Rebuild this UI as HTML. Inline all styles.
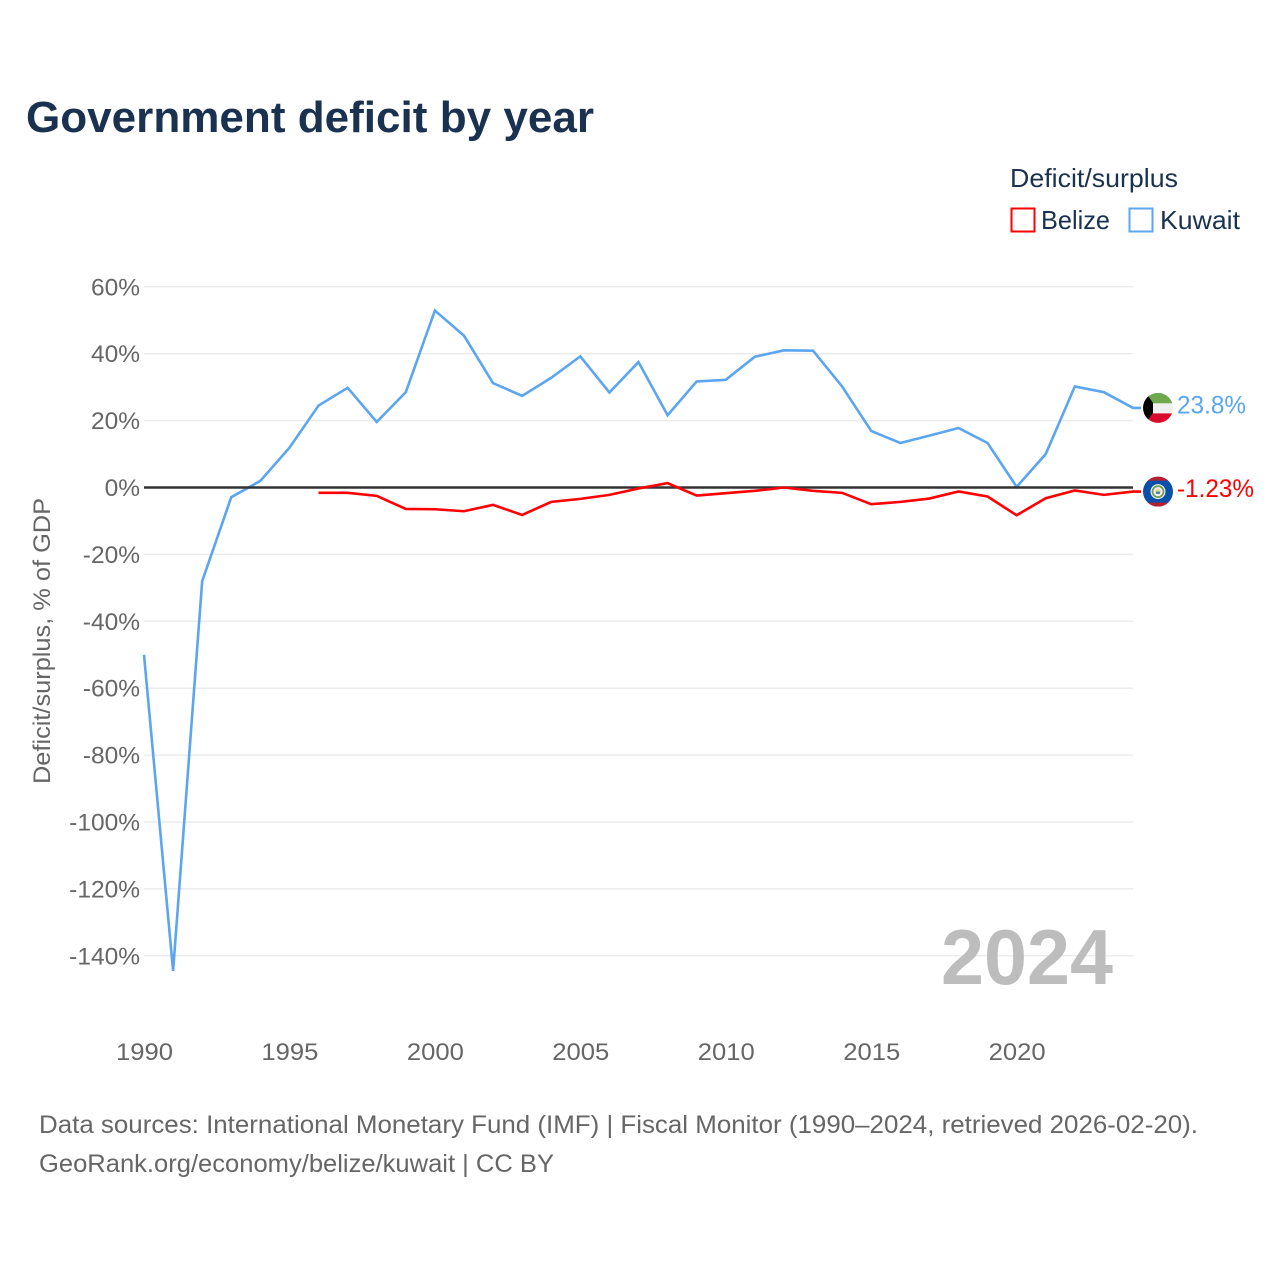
<!DOCTYPE html>
<html lang="en">
<head>
<meta charset="utf-8">
<title>Government deficit by year</title>
<style>
html,body{margin:0;padding:0;background:#fff;}
svg{display:block;font-family:"Liberation Sans",sans-serif;}
</style>
</head>
<body>
<svg id="chart" width="1280" height="1280" viewBox="0 0 1280 1280" xmlns="http://www.w3.org/2000/svg">
  <defs>
    <clipPath id="flag-clip-k"><circle cx="0" cy="0" r="15"/></clipPath>
    <clipPath id="flag-clip-b"><circle cx="0" cy="0" r="15"/></clipPath>
  </defs>
  <rect x="0" y="0" width="1280" height="1280" fill="#fff"/>
  <text x="26" y="132" font-size="44" font-weight="700" fill="#1a3250" textLength="568" lengthAdjust="spacingAndGlyphs">Government deficit by year</text>

  <text x="1010" y="187" font-size="26" fill="#1a3250" textLength="168" lengthAdjust="spacingAndGlyphs">Deficit/surplus</text>
  <rect x="1011.5" y="208.5" width="23" height="23" fill="none" stroke="#ff0000" stroke-width="2"/>
  <text x="1041" y="229" font-size="26" fill="#1a3250" textLength="69" lengthAdjust="spacingAndGlyphs">Belize</text>
  <rect x="1129.5" y="208.5" width="23" height="23" fill="none" stroke="#5ba6ef" stroke-width="2"/>
  <text x="1160" y="229" font-size="26" fill="#1a3250" textLength="80" lengthAdjust="spacingAndGlyphs">Kuwait</text>

  <g id="grid"></g>
  <g id="y-ticks"></g>
  <g id="x-ticks"></g>
  <text transform="translate(50,641) rotate(-90)" text-anchor="middle" font-size="24.5" fill="#666" textLength="286" lengthAdjust="spacingAndGlyphs">Deficit/surplus, % of GDP</text>

  <text x="1113" y="984" text-anchor="end" font-size="78" font-weight="700" fill="#bdbdbd" textLength="172" lengthAdjust="spacingAndGlyphs">2024</text>

  <g id="series"></g>
  <line id="zero-line" stroke="#333" stroke-width="2.5"/>
  <g id="series-top"></g>

  <g id="flag-kuwait">
    <g clip-path="url(#flag-clip-k)">
      <rect x="-15" y="-15" width="30" height="10.5" fill="#6fa84f"/>
      <rect x="-15" y="-4.5" width="30" height="10" fill="#efefef"/>
      <rect x="-15" y="5.5" width="30" height="10" fill="#d90a2c"/>
      <polygon points="-15,-15 -12,-15 -5,-5 -5,5 -12,15 -15,15" fill="#050505"/>
    </g>
  </g>
  <g id="flag-belize">
    <g clip-path="url(#flag-clip-b)">
      <rect x="-15" y="-15" width="30" height="30" fill="#0b50a8"/>
      <rect x="-15" y="-15" width="30" height="4" fill="#b8202f"/>
      <rect x="-15" y="11" width="30" height="4" fill="#b8202f"/>
      <circle cx="0" cy="0" r="7.5" fill="#f2f2f2"/>
      <circle cx="0" cy="0" r="5.5" fill="none" stroke="#6c9e58" stroke-width="1.8"/>
      <circle cx="0" cy="0" r="3" fill="#e6d7a0"/>
      <rect x="-2" y="0" width="4" height="2.2" fill="#4f7f9c"/>
    </g>
  </g>
  <text id="value-kuwait" x="1177" font-size="25" fill="#5ba6ef" textLength="69" lengthAdjust="spacingAndGlyphs"></text>
  <text id="value-belize" x="1177" font-size="25" fill="#ff0000" textLength="77" lengthAdjust="spacingAndGlyphs"></text>

  <text x="39" y="1133" font-size="25" fill="#666" textLength="1159" lengthAdjust="spacingAndGlyphs">Data sources: International Monetary Fund (IMF) | Fiscal Monitor (1990–2024, retrieved 2026-02-20).</text>
  <text x="39" y="1172" font-size="25" fill="#666" textLength="515" lengthAdjust="spacingAndGlyphs">GeoRank.org/economy/belize/kuwait | CC BY</text>
</svg>
<script>
const years = [1990,1991,1992,1993,1994,1995,1996,1997,1998,1999,2000,2001,2002,2003,2004,2005,2006,2007,2008,2009,2010,2011,2012,2013,2014,2015,2016,2017,2018,2019,2020,2021,2022,2023,2024];
const kuwaitValues = [-50.0,-144.5,-28.0,-2.9,2.0,11.9,24.5,29.8,19.6,28.5,52.9,45.4,31.2,27.4,32.8,39.2,28.4,37.5,21.6,31.7,32.2,39.1,41.0,40.9,30.2,16.9,13.3,15.5,17.8,13.3,0.2,10.0,30.2,28.5,23.8];
const belizeValues = [null,null,null,null,null,null,-1.6,-1.6,-2.5,-6.4,-6.5,-7.1,-5.2,-8.2,-4.3,-3.4,-2.2,-0.3,1.3,-2.4,-1.7,-1.0,0.0,-1.0,-1.6,-5.0,-4.3,-3.3,-1.2,-2.7,-8.3,-3.2,-0.9,-2.2,-1.23];
const yTickValues = [60,40,20,0,-20,-40,-60,-80,-100,-120,-140];
const xTickValues = [1990,1995,2000,2005,2010,2015,2020];

const svgNS = 'http://www.w3.org/2000/svg';
const plotLeft = 144, plotRight = 1133;
function xScale(year) { return plotLeft + (year - 1990) * (plotRight - plotLeft) / (2024 - 1990); }
function yScale(value) { return 487.5 - value * 3.345; }
function make(tag, attrs) {
  const el = document.createElementNS(svgNS, tag);
  for (const k in attrs) el.setAttribute(k, attrs[k]);
  return el;
}

const gridGroup = document.getElementById('grid');
const yTickGroup = document.getElementById('y-ticks');
yTickValues.forEach(function (v) {
  if (v !== 0) {
    const gl = make('line', {x1: plotLeft, x2: plotRight, y1: yScale(v), y2: yScale(v), stroke: '#ececec', 'stroke-width': 1.5});
    
    
    gridGroup.appendChild(gl);
  }
  const t = make('text', {x: 140, y: yScale(v) + 8.5, 'text-anchor': 'end', 'font-size': 24.5, fill: '#666'});
  
  
  t.textContent = v + '%';
  yTickGroup.appendChild(t);
});

const xTickGroup = document.getElementById('x-ticks');
xTickValues.forEach(function (y) {
  const t = make('text', {x: xScale(y) + 0.5, y: 1060, 'text-anchor': 'middle', 'font-size': 24.5, fill: '#666', textLength: 57, lengthAdjust: 'spacingAndGlyphs'});
  
  
  t.textContent = String(y);
  xTickGroup.appendChild(t);
});

function seriesPath(values) {
  const pts = [];
  values.forEach(function (v, i) {
    if (v !== null) pts.push(xScale(years[i]).toFixed(2) + ',' + yScale(v).toFixed(2));
  });
  const last = values[values.length - 1];
  pts.push((plotRight + 8) + ',' + yScale(last).toFixed(2));
  return pts.join(' ');
}

const flagX = 1158;
const kuwaitLine = make('polyline', {points: seriesPath(kuwaitValues), fill: 'none', stroke: '#5ba6ef', 'stroke-width': 2.6, 'stroke-linejoin': 'miter'});


document.getElementById('series').appendChild(kuwaitLine);

const belizeLine = make('polyline', {points: seriesPath(belizeValues), fill: 'none', stroke: '#ff0000', 'stroke-width': 2.6, 'stroke-linejoin': 'miter'});


document.getElementById('series-top').appendChild(belizeLine);

const zero = document.getElementById('zero-line');
zero.setAttribute('x1', plotLeft);
zero.setAttribute('x2', plotRight);
zero.setAttribute('y1', yScale(0));
zero.setAttribute('y2', yScale(0));

const lastKuwait = kuwaitValues[kuwaitValues.length - 1];
const lastBelize = belizeValues[belizeValues.length - 1];
document.getElementById('flag-kuwait').setAttribute('transform', 'translate(' + flagX + ',' + yScale(lastKuwait) + ')');
document.getElementById('flag-belize').setAttribute('transform', 'translate(' + flagX + ',' + yScale(lastBelize) + ')');
const valueKuwait = document.getElementById('value-kuwait');
valueKuwait.setAttribute('y', yScale(lastKuwait) + 5.5);
valueKuwait.textContent = lastKuwait + '%';
const valueBelize = document.getElementById('value-belize');
valueBelize.setAttribute('y', yScale(lastBelize) + 5.5);
valueBelize.textContent = lastBelize + '%';
</script>
</body>
</html>
